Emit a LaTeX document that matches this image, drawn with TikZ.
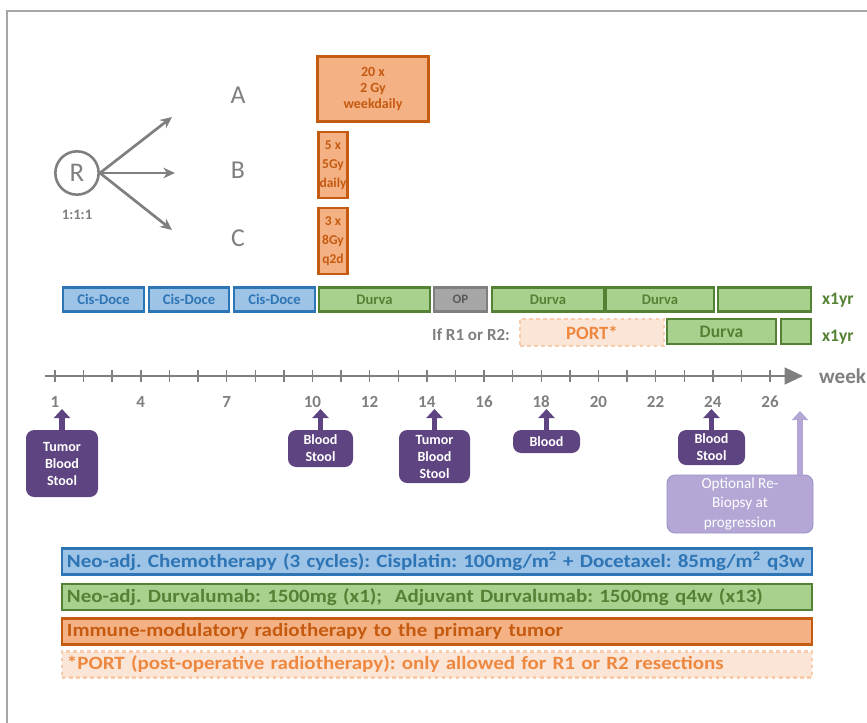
\documentclass[tikz,border=0pt]{standalone}
\usepackage{fontspec}
\setmainfont{Carlito}
\newfontfamily\legendfont[FakeStretch=1.12]{Carlito}
\usetikzlibrary{arrows.meta}

\definecolor{framegray}{HTML}{A6A6A6}
\definecolor{labelgray}{HTML}{7F7F7F}
\definecolor{chemofill}{HTML}{9DC3E6}
\definecolor{chemoline}{HTML}{2E75B6}
\definecolor{durvafill}{HTML}{A9D18E}
\definecolor{durvaline}{HTML}{548235}
\definecolor{rtfill}{HTML}{F4B183}
\definecolor{rtline}{HTML}{C55A11}
\definecolor{portfill}{HTML}{FBE5D6}
\definecolor{portline}{HTML}{F8CBAD}
\definecolor{porttext}{HTML}{EE8840}
\definecolor{opfill}{HTML}{A6A6A6}
\definecolor{opline}{HTML}{7F7F7F}
\definecolor{samplepurple}{HTML}{5E4481}
\definecolor{optpurple}{HTML}{B4A7D6}
\definecolor{optline}{HTML}{9E8FC9}

\begin{document}
\frenchspacing
\begin{tikzpicture}[
            x=0.03cm, y=-0.03cm,
            bw/.style={minimum width=#1*0.03cm},
            bh/.style={minimum height=#1*0.03cm},
            bar/.style={draw, line width=2pt, inner sep=0pt, font=\fontsize{12.5}{14}\selectfont\bfseries},
            cis/.style={bar, fill=chemofill, draw=chemoline, text=chemoline},
            durva/.style={bar, fill=durvafill, draw=durvaline, text=durvaline},
            opbox/.style={bar, fill=opfill, draw=opline, text=black!65, font=\fontsize{11}{12}\selectfont\bfseries},
            rt/.style={bar, fill=rtfill, draw=rtline, text=rtline, align=center, font=\fontsize{12}{14}\selectfont\bfseries},
            port/.style={bar, dashed, fill=portfill, draw=portline, text=porttext},
            arm/.style={text=labelgray, font=\fontsize{22}{22}\selectfont},
            note/.style={text=labelgray, font=\fontsize{14.5}{16}\selectfont\bfseries},
            sample/.style={fill=samplepurple, text=white, rounded corners=7pt, inner sep=0pt, align=center, font=\fontsize{12}{14.5}\selectfont\bfseries},
            samplearrow/.style={draw=samplepurple, line width=0.17cm, -{Triangle[width=0.48cm,length=0.27cm]}},
            legend/.style={draw, line width=2pt, inner xsep=0.15cm, inner ysep=0pt, bh=26, text width=22.2cm, align=left, font=\legendfont\fontsize{16}{18}\selectfont\bfseries}
        ]
        \useasboundingbox (0,0) rectangle (867,722);
        % frame
        \draw[framegray, line width=2.5pt] (7,740) -- (7,11) -- (890,11);

        % randomisation
        \node[circle, draw=labelgray, line width=2.2pt, minimum size=1.3cm, inner sep=0pt, text=labelgray, font=\fontsize{23}{23}\selectfont] (R) at (77,173) {R};
        \node[note, font=\fontsize{12.5}{14}\selectfont\bfseries] (ratio) at (77,215) {1:1:1};
        \coordinate (toA) at (172,117);
        \coordinate (toB) at (175,173);
        \coordinate (toC) at (172,230);
        \foreach \arm in {toA,toB,toC}
            \draw[labelgray, line width=2.3pt, -{Stealth[length=10pt,width=9pt]}] (R.east) -- (\arm);
        \node[arm] (armA) at (238,95) {A};
        \node[arm] (armB) at (238,170) {B};
        \node[arm] (armC) at (238,238) {C};

        % radiotherapy arms
        \node[rt, bw=111, bh=65] (rtA) at (373,89) {20 x\\2 Gy\\weekdaily};
        \node[rt, bw=29, bh=66, font=\fontsize{11.5}{16}\selectfont\bfseries] (rtB) at (333,165) {5 x\\5Gy\\daily};
        \node[rt, bw=29, bh=66, font=\fontsize{11.5}{16}\selectfont\bfseries] (rtC) at (333,241) {3 x\\8Gy\\q2d};

        % treatment bars
        \node[cis, bw=81, bh=24] (cis1) at (103.5,299.5) {Cis-Doce};
        \node[cis, bw=80, bh=24] (cis2) at (189,299.5) {Cis-Doce};
        \node[cis, bw=81, bh=24] (cis3) at (274.5,299.5) {Cis-Doce};
        \node[durva, bw=111, bh=24] (neo) at (374.5,299.5) {Durva};
        \node[opbox, bw=53, bh=24] (op) at (460.5,299.5) {OP};
        \node[durva, bw=112, bh=24] (adj1) at (548,299.5) {Durva};
        \node[durva, bw=108, bh=24] (adj2) at (660,299.5) {Durva};
        \node[durva, bw=93, bh=24] (adj3) at (764.5,299.5) {};
        \node[note, anchor=west, text=durvaline, font=\fontsize{15}{16}\selectfont\bfseries] (yr1) at (818,300) {x1yr};

        \node[note, anchor=east] (ifr) at (514,335) {If R1 or R2:};
        \node[port, bw=144, bh=27, font=\fontsize{16}{18}\selectfont\bfseries] (port) at (592,332.5) {PORT*};
        \node[durva, bw=109, bh=25, font=\fontsize{15}{17}\selectfont\bfseries] (adj4) at (721.5,331.5) {Durva};
        \node[durva, bw=30, bh=25] (adj5) at (796,331.5) {};
        \node[note, anchor=west, text=durvaline, font=\fontsize{15}{16}\selectfont\bfseries] (yr2) at (818,337) {x1yr};

        % timeline
        \coordinate (tstart) at (45,376);
        \coordinate (tend) at (803,376);
        \draw[labelgray, line width=2.2pt, -{Triangle[width=0.5cm,length=0.55cm]}] (tstart) -- (tend);
        \foreach \w in {1,...,26}
            \draw[labelgray, line width=1.2pt] ({55+(\w-1)*28.6},370) -- ++(0,12);
        \foreach \w in {1,4,7,10,12,14,16,18,20,22,24,26}
            \node[note] at ({55+(\w-1)*28.6},402) {\w};
        \node[note, anchor=west, font=\fontsize{18}{18}\selectfont\bfseries] (weeks) at (815,376) {week};

        % samples
        \node[sample, bw=72, bh=67] (s1) at (62,463.5) {Tumor\\Blood\\Stool};
        \node[sample, bw=65, bh=37] (s10) at (320.5,448.5) {Blood\\Stool};
        \node[sample, bw=71, bh=53] (s14) at (434.5,456.5) {Tumor\\Blood\\Stool};
        \node[sample, bw=67, bh=23] (s18) at (546.5,441.5) {Blood};
        \node[sample, bw=67, bh=35] (s24) at (711.5,447.5) {Blood\\Stool};
        \node[sample, fill=optpurple, draw=optline, line width=0.8pt, bw=146, bh=58, font=\fontsize{13}{17}\selectfont] (rebx) at (740,504) {Optional Re-\\Biopsy at\\progression};
        \foreach \s in {s1,s10,s14,s18,s24}
            \draw[samplearrow] (\s.north) -- (\s.north |- 0,409);
        \coordinate (w27) at (800,411);
        \draw[samplearrow, draw=optpurple] (rebx.north -| w27) -- (w27);

        % legend
        \node[legend, fill=chemofill, draw=chemoline, text=chemoline] (lchemo) at (437,561.5) {Neo-adj. Chemotherapy (3 cycles): Cisplatin: 100mg/m\textsuperscript{2} + Docetaxel: 85mg/m\textsuperscript{2} q3w};
        \node[legend, fill=durvafill, draw=durvaline, text=durvaline] (ldurva) at (437,597) {Neo-adj. Durvalumab: 1500mg (x1);\ \ Adjuvant Durvalumab: 1500mg q4w (x13)};
        \node[legend, fill=rtfill, draw=rtline, text=rtline] (lrt) at (437,631.5) {Immune-modulatory radiotherapy to the primary tumor};
        \node[legend, dashed, fill=portfill, draw=portline, text=porttext] (lport) at (437,664.5) {*PORT (post-operative radiotherapy): only allowed for R1 or R2 resections};
    \end{tikzpicture}
\end{document}
